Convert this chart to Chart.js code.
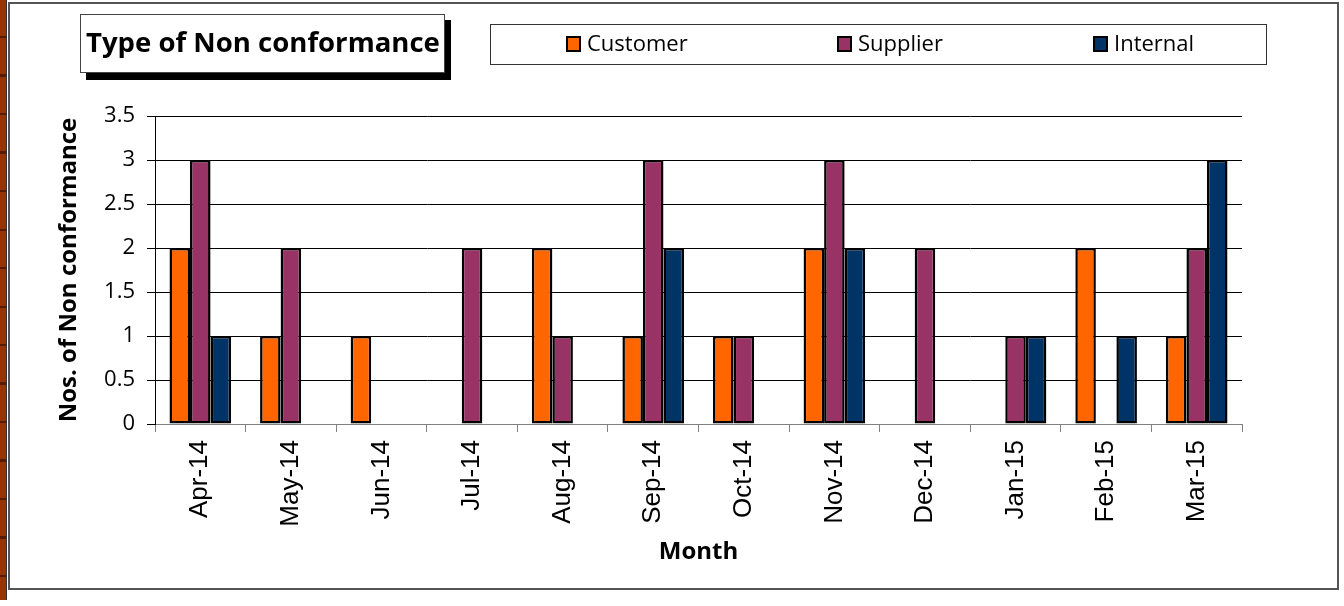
<!DOCTYPE html>
<html>
<head>
<meta charset="utf-8">
<script src="https://cdn.jsdelivr.net/npm/chart.js@4.4.0/dist/chart.umd.min.js"></script>
<style>
  html, body { margin: 0; padding: 0; background: #fff; }
  #wrap { position: relative; width: 1344px; height: 606px; }
  #strip { position: absolute; left: 0; top: 0; width: 6px; height: 600px;
    background: repeating-linear-gradient(to bottom, #993300 0px, #993300 36px, #5a1a00 36px, #5a1a00 38.5px);
    border-right: 1px solid #333; }
  canvas { position: absolute; left: 0; top: 0; }
</style>
</head>
<body>
<div id="wrap">
  <div id="strip"></div>
  <canvas id="c" width="1344" height="606"></canvas>
</div>
<script>
const categories = ["Apr-14","May-14","Jun-14","Jul-14","Aug-14","Sep-14","Oct-14","Nov-14","Dec-14","Jan-15","Feb-15","Mar-15"];
const customer = [2, 1, 1, 0, 2, 1, 1, 2, 0, 0, 2, 1];
const supplier = [3, 2, 0, 2, 1, 3, 1, 3, 2, 1, 0, 2];
const internal = [1, 0, 0, 0, 0, 2, 0, 2, 0, 1, 1, 3];
const yTicks = [0, 0.5, 1, 1.5, 2, 2.5, 3, 3.5];
const chartTitle = "Type of Non conformance";
const xTitle = "Month";
const yTitle = "Nos. of Non conformance";

const sansFont = "'Open Sans', Lato, sans-serif";

const decorPlugin = {
  id: 'decor',
  afterDraw(chart) {
    const ctx = chart.ctx;
    ctx.save();
    // outer border
    ctx.strokeStyle = '#555';
    ctx.lineWidth = 2;
    ctx.strokeRect(9, 3, 1329, 586);
    // title box with shadow
    ctx.fillStyle = '#000';
    ctx.fillRect(86, 20, 365, 60);
    ctx.fillStyle = '#fff';
    ctx.fillRect(80, 14, 365, 59);
    ctx.strokeStyle = '#444';
    ctx.lineWidth = 1;
    ctx.strokeRect(80.5, 14.5, 364, 58);
    ctx.fillStyle = '#000';
    let fs = 28;
    ctx.font = 'bold ' + fs + 'px ' + sansFont;
    const w = ctx.measureText(chartTitle).width;
    fs = fs * 354 / w;
    ctx.font = 'bold ' + fs + 'px ' + sansFont;
    ctx.textBaseline = 'middle';
    ctx.textAlign = 'left';
    ctx.fillText(chartTitle, 86, 44);
    // legend box
    ctx.fillStyle = '#fff';
    ctx.fillRect(490, 24, 777, 41);
    ctx.strokeStyle = '#333';
    ctx.lineWidth = 1;
    ctx.strokeRect(490.5, 24.5, 776, 40);
    const xs = [567, 838, 1094];
    ctx.font = '22px ' + sansFont;
    chart.data.datasets.forEach((ds, i) => {
      ctx.fillStyle = ds.backgroundColor;
      ctx.fillRect(xs[i], 37, 13, 14);
      ctx.strokeStyle = '#000';
      ctx.lineWidth = 2;
      ctx.strokeRect(xs[i], 37, 13, 14);
      ctx.fillStyle = '#000';
      ctx.textBaseline = 'middle';
      ctx.fillText(ds.label, xs[i] + 20, 45);
    });
    ctx.restore();
  }
};

new Chart(document.getElementById('c'), {
  type: 'bar',
  data: {
    labels: categories,
    datasets: [
      { label: 'Customer', data: customer, backgroundColor: '#FF6600' },
      { label: 'Supplier', data: supplier, backgroundColor: '#993366' },
      { label: 'Internal', data: internal, backgroundColor: '#003366' }
    ].map(d => Object.assign(d, { borderColor: '#000', borderWidth: 2.5, borderSkipped: false,
        categoryPercentage: 0.68, barPercentage: 1 }))
  },
  options: {
    responsive: false,
    animation: false,
    devicePixelRatio: 1,
    layout: { padding: { left: 50, right: 102, top: 116, bottom: 30 } },
    plugins: { legend: { display: false }, tooltip: { enabled: false }, title: { display: false } },
    scales: {
      x: {
        grid: { display: true, drawOnChartArea: false, drawTicks: true, tickLength: 8, offset: true, color: '#808080' },
        border: { color: '#808080', width: 1 },
        ticks: { minRotation: 90, maxRotation: 90, color: '#000', padding: 8,
          font: { family: "'Liberation Sans', Arial, sans-serif", size: 26 } },
        title: { display: true, text: xTitle, color: '#000',
          font: { family: sansFont, size: 24, weight: 'bold' }, padding: { top: 0, bottom: 9 } },
        afterFit(scale) { scale.height = 152; }
      },
      y: {
        min: 0, max: 3.5,
        afterBuildTicks(scale) { scale.ticks = yTicks.map(v => ({ value: v })); },
        grid: { color: '#000', lineWidth: 1, tickLength: 8, drawTicks: true },
        border: { color: '#000', width: 1 },
        ticks: { color: '#000', padding: 12, font: { family: sansFont, size: 22 },
          callback: v => String(v) },
        title: { display: true, text: yTitle, color: '#000',
          font: { family: sansFont, size: 24, weight: 'bold' }, padding: { top: 5, bottom: 0 } },
        afterFit(scale) { scale.width = 105; }
      }
    }
  },
  plugins: [decorPlugin]
});
</script>
</body>
</html>
